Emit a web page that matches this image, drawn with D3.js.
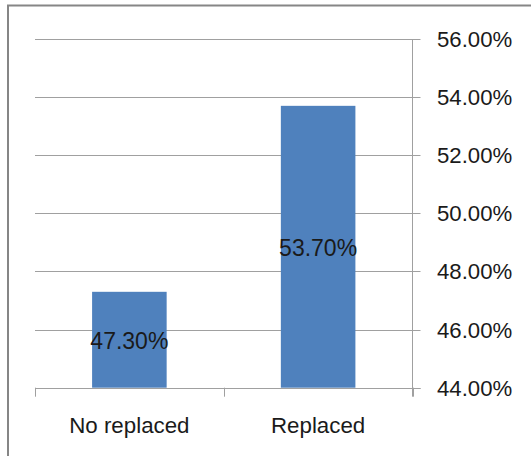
<!DOCTYPE html>
<html>
<head>
<meta charset="utf-8">
<script src="https://cdn.jsdelivr.net/npm/d3@7"></script>
<style>
  html, body { margin: 0; padding: 0; background: #ffffff; }
  svg { display: block; }
</style>
</head>
<body>
<div id="chart"></div>
<script>
const categories = ["No replaced", "Replaced"];
const values = [0.473, 0.537];
const tickValues = [0.44, 0.46, 0.48, 0.50, 0.52, 0.54, 0.56];

(function () {
const W = 531, H = 456;
const svg = d3.select("#chart").append("svg").attr("width", W).attr("height", H);

// outer chart border (extends past right/bottom edges)
svg.append("rect")
  .attr("x", 8).attr("y", 5.5)
  .attr("width", 600).attr("height", 600)
  .attr("fill", "none")
  .attr("stroke", "#868686")
  .attr("stroke-width", 2);

const pLeft = 35, pRight = 412.5, pTop = 39, pBottom = 387.7;

const x = d3.scaleBand().domain(categories).range([pLeft, pRight])
  .paddingInner(0.605).paddingOuter(0.3025);
const y = d3.scaleLinear().domain([0.44, 0.56]).range([pBottom, pTop]);

const gridColor = "#a0a0a0";
const numFont = "'Liberation Sans Narrow', 'Liberation Sans', Arial, sans-serif";
const catFont = "'Liberation Sans', Arial, sans-serif";

// gridlines + right-side ticks
svg.append("g").selectAll("line").data(tickValues).join("line")
  .attr("x1", pLeft).attr("x2", pRight + 8)
  .attr("y1", d => Math.round(y(d)) + 0.5).attr("y2", d => Math.round(y(d)) + 0.5)
  .attr("stroke", gridColor).attr("stroke-width", 1);

// right axis line
svg.append("line")
  .attr("x1", pRight).attr("x2", pRight)
  .attr("y1", pTop).attr("y2", pBottom + 9)
  .attr("stroke", gridColor).attr("stroke-width", 1);

// x-axis category boundary ticks
const boundaries = [pLeft, (pLeft + pRight) / 2, pRight];
svg.append("g").selectAll("line").data(boundaries).join("line")
  .attr("x1", d => Math.round(d) + 0.5).attr("x2", d => Math.round(d) + 0.5)
  .attr("y1", pBottom).attr("y2", pBottom + 9)
  .attr("stroke", gridColor).attr("stroke-width", 1);

// bars
svg.append("g").selectAll("rect").data(values).join("rect")
  .attr("x", (d, i) => x(categories[i]))
  .attr("width", x.bandwidth())
  .attr("y", d => y(d))
  .attr("height", d => pBottom - y(d))
  .attr("fill", "#4f81bd");

// re-draw baseline over bars
svg.append("line")
  .attr("x1", pLeft).attr("x2", pRight + 8)
  .attr("y1", Math.round(pBottom) + 0.5).attr("y2", Math.round(pBottom) + 0.5)
  .attr("stroke", gridColor).attr("stroke-width", 1);

// data labels
svg.append("g").selectAll("text").data(values).join("text")
  .attr("x", (d, i) => x(categories[i]) + x.bandwidth() / 2)
  .attr("y", d => (y(d) + pBottom) / 2 + 9.5)
  .attr("text-anchor", "middle")
  .attr("font-family", numFont)
  .attr("font-size", 23)
  .attr("fill", "#1a1a1a")
  .text(d => d3.format(".2%")(d));

// right tick labels
svg.append("g").selectAll("text").data(tickValues).join("text")
  .attr("x", 437)
  .attr("y", d => y(d) + 8)
  .attr("text-anchor", "start")
  .attr("font-family", numFont)
  .attr("font-size", 22.2)
  .attr("fill", "#1a1a1a")
  .text(d => d3.format(".2%")(d));

// category labels
svg.append("g").selectAll("text").data(categories).join("text")
  .attr("x", d => x(d) + x.bandwidth() / 2)
  .attr("y", 432.5)
  .attr("text-anchor", "middle")
  .attr("font-family", catFont)
  .attr("font-size", 22.3)
  .attr("fill", "#1a1a1a")
  .text(d => d);
})();
</script>
</body>
</html>
